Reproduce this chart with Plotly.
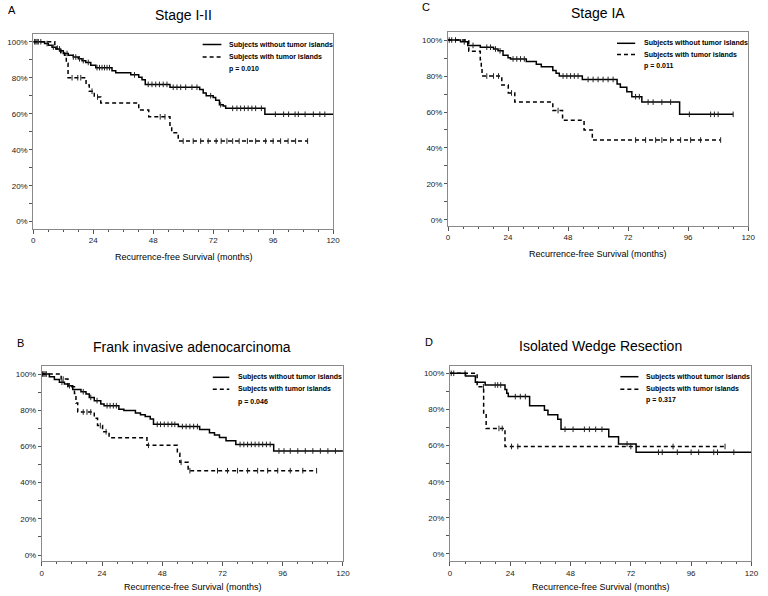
import plotly.graph_objects as go

# ---------------- data ----------------
panel_titles = ["Stage I-II", "Stage IA", "Frank invasive adenocarcinoma", "Isolated Wedge Resection"]
panel_letters = ["A", "C", "B", "D"]
p_values = ["p = 0.010", "p = 0.011", "p = 0.046", "p = 0.317"]
series_names = ["Subjects without tumor islands", "Subjects with tumor islands"]
x_ticks = [0, 24, 48, 72, 96, 120]
y_ticks = [0, 20, 40, 60, 80, 100]
y_tick_labels = ["0%", "20%", "40%", "60%", "80%", "100%"]

# Panel A (Stage I-II)
a_wo_t = [0, 4.5, 6, 7.5, 9, 10.5, 12, 14, 16, 18, 19.5, 21, 23, 25, 31.5, 33, 39, 42.2, 43.5, 44.8, 54.7, 66.6, 68, 69.2, 72, 73, 74.5, 76, 77, 92.7, 120]
a_wo_s = [100, 99, 98, 97, 96, 95, 93.5, 92.5, 91.5, 90.5, 89.5, 88.5, 86.9, 85.6, 83.9, 82.8, 81.6, 80.3, 78.9, 76.3, 74.7, 73.5, 71.5, 70, 69, 67.5, 65, 64.3, 63, 59.7, 59.7]
a_wo_c = [0.5, 1, 1.5, 2, 3, 5.5, 8, 11, 13.5, 16, 17, 18.5, 20, 22, 25.5, 26.5, 27.5, 28.5, 29.5, 30.5, 40.5,
          46, 47.5, 49, 50.5, 52, 53.5, 56, 57.5, 59, 61, 63.5, 65.5, 71, 75, 79.8, 81.5, 83, 84.5, 86, 87.5, 89, 91.3,
          96.9, 100.2, 102.2, 104.8, 106.1, 108.8, 112.1, 114.7, 116.7]
a_w_t = [0, 8.6, 9.5, 11, 12.5, 13.2, 13.9, 21.1, 22.4, 24.4, 27, 42.2, 46.2, 54.7, 55.4, 58, 109.8]
a_w_s = [100, 97.5, 96, 94, 92.5, 88, 80, 76, 72.5, 69.3, 66, 62, 58.3, 53, 49.4, 44.8, 44.8]
a_w_c = [10.5, 15.5, 17.8, 19, 23.5, 25.7, 50.8, 52.7, 60, 64, 67, 70, 73.2, 75.2, 77.5, 79.8, 82.4, 85.7, 89, 93, 96, 99, 102, 105, 109.8]

# Panel C (Stage IA)
c_wo_t = [0, 5, 7.9, 12.9, 18.2, 20, 22, 24, 25, 31.3, 35.3, 37.3, 41.9, 43.2, 44.5, 53.7, 67.6, 68.9, 71.5, 73.5, 77.5, 92.6, 114]
c_wo_s = [100, 99, 97, 96, 95, 94, 91.5, 90.2, 89.5, 88, 86.5, 85.2, 83, 81.5, 80, 78.1, 75.5, 73.7, 71.3, 68.5, 65.5, 58.7, 58.7]
c_wo_c = [0.5, 1.5, 3, 6.5, 10, 15.5, 17, 19, 20.8, 26, 27.5, 29, 30.5, 46, 47.5, 49, 50.5, 52, 56, 58, 60, 62, 64, 66,
          75, 76.5, 80, 82, 85.5, 89, 96.5, 105, 106.5, 108, 114]
c_w_t = [0, 8.3, 12.9, 13.3, 13.6, 21.5, 24.1, 26.7, 41.9, 45.8, 54.4, 57.7, 109]
c_w_s = [100, 93.8, 89, 85, 80, 75, 70.6, 65.5, 60.8, 55.4, 50, 44.4, 44.4]
c_w_c = [15.5, 18.2, 20.2, 25.4, 44, 75, 79, 83, 85.5, 89, 93, 97, 101, 109]

# Panel B (Frank invasive adenocarcinoma)
b_wo_t = [0, 3, 5, 7, 9, 10.4, 12.3, 15.6, 17.6, 18.9, 20.9, 23.5, 24.8, 30.7, 32.7, 37.3, 39.3, 41.2, 43.2, 44.5, 54.4, 62.9, 66.8, 68.8, 70.8, 73.4, 77.3, 92.4, 120]
b_wo_s = [100, 98.5, 97, 95.5, 94.5, 93.5, 91.5, 90.2, 89, 87.1, 85.3, 83.4, 82.5, 80.5, 79.8, 78.5, 77.5, 76.5, 75.1, 72.2, 71, 69.4, 67.5, 66.3, 65, 63.2, 61.1, 57.5, 57.5]
b_wo_c = [0.3, 0.8, 1.3, 1.8, 8, 11, 16.5, 19.5, 22, 26, 27.2, 28.5, 29.7, 46, 47.3, 48.8, 50.3, 51.8, 53, 56, 57.5, 59, 60.5, 62,
          79, 80.5, 82, 83.5, 85, 86.5, 88, 89.5, 91, 94.5, 96.5, 99, 102, 105, 108, 111, 114, 117]
b_w_t = [0, 7.7, 10.4, 13, 13.6, 14.3, 20.9, 22.2, 24.2, 26.8, 41.9, 54, 55, 58.3, 109.5]
b_w_s = [100, 97.2, 93, 89.3, 84, 79, 75.5, 71.5, 68.1, 64.8, 60.6, 56.2, 51.2, 46.6, 46.6]
b_w_c = [8.5, 16.5, 18, 19.5, 23.3, 25.6, 42.5, 55.5, 59, 70, 74, 78, 82, 86, 90, 94, 99, 104, 109.5]

# Panel D (Isolated Wedge Resection)
d_wo_t = [0, 6.2, 10.1, 14, 21.9, 22.6, 23.2, 31.7, 37.6, 39, 42.9, 44.2, 63.2, 67.1, 74.1, 120]
d_wo_s = [100, 98.5, 95, 93.5, 91, 89, 87.1, 82.1, 79.5, 77.1, 74.5, 69, 64.9, 60.9, 56.3, 56.3]
d_wo_c = [0.5, 1.5, 6, 18, 19, 20.2, 26, 28, 30, 45.8, 49, 53.5, 55.5, 58, 60.5, 70.5, 83, 84.5, 90.5, 96, 99, 105, 106.5, 113]
d_w_t = [0, 10.8, 13.4, 14.4, 21.9, 109.5]
d_w_s = [100, 92.5, 77.5, 69.5, 59.5, 59.5]
d_w_c = [13.3, 19.5, 20.8, 24.5, 27, 72, 88.8, 109.5]

panels = [
    (a_wo_t, a_wo_s, a_wo_c, a_w_t, a_w_s, a_w_c),
    (c_wo_t, c_wo_s, c_wo_c, c_w_t, c_w_s, c_w_c),
    (b_wo_t, b_wo_s, b_wo_c, b_w_t, b_w_s, b_w_c),
    (d_wo_t, d_wo_s, d_wo_c, d_w_t, d_w_s, d_w_c),
]

# ---------------- layout geometry (pixels) ----------------
W, H = 768, 596
FONT = "Arial, 'Liberation Sans', sans-serif"

def fx(px):
    return px / W

def fy(py):
    return 1 - py / H

# plot boxes: left, right, top, bottom (px) and y-range
boxes = [
    (31.7, 335.0, 34.0, 228.7, [-3.9, 104.3]),
    (451.3, 755.0, 32.3, 225.7, [-3.2, 104.3]),
    (40.3, 345.0, 365.7, 561.0, [-3.3, 104.6]),
    (453.3, 758.3, 365.7, 561.0, [-3.9, 104.2]),
]
titles_pos = [(183.7, 15), (603, 13), (192.5, 346.7), (605.8, 346)]
letters_pos = [(10, 10), (429, 7), (19, 342.7), (432.3, 342.3)]
xtitle_pos = [(184, 257), (603, 254), (193, 587.3), (606, 587.3)]
# legend: sample x0, x1, y_solid, y_dash, text_x, p_y
legend_pos = [
    (203, 222, 44.5, 57.0, 228, 69.5),
    (622.3, 640.7, 43.3, 54.5, 647.3, 66),
    (213.3, 230, 377.3, 389.3, 236.3, 401.7),
    (625.7, 644, 376.7, 389.3, 649.7, 400),
]

def surv_at(times, surv, t):
    val = surv[0]
    for ti, si in zip(times, surv):
        if ti <= t:
            val = si
        else:
            break
    return val

fig = go.Figure()
shapes = []
annotations = []

for i, (wo_t, wo_s, wo_c, w_t, w_s, w_c) in enumerate(panels):
    n = i + 1
    xa = "x" if n == 1 else f"x{n}"
    ya = "y" if n == 1 else f"y{n}"
    for (t, s, c, dash) in [(wo_t, wo_s, wo_c, "solid"), (w_t, w_s, w_c, "4px,3px")]:
        fig.add_trace(go.Scatter(
            x=t, y=s, mode="lines", xaxis=xa, yaxis=ya, showlegend=False,
            line=dict(shape="hv", color="black", width=1.5, dash=dash), hoverinfo="skip"))
        fig.add_trace(go.Scatter(
            x=c, y=[surv_at(t, s, ci) for ci in c], mode="markers", xaxis=xa, yaxis=ya,
            showlegend=False, hoverinfo="skip",
            marker=dict(symbol="line-ns", size=4, line=dict(color="#222", width=1))))

    l, r, tp, bt, yr = boxes[i]
    axcommon = dict(showline=True, linecolor="#8a8a8a", linewidth=1, mirror=True,
                    showgrid=False, zeroline=False, ticks="outside", tickcolor="#555",
                    tickfont=dict(family=FONT, size=8, color="#222"))
    xkey = "xaxis" if n == 1 else f"xaxis{n}"
    ykey = "yaxis" if n == 1 else f"yaxis{n}"
    fig.update_layout(**{
        xkey: dict(domain=[fx(l), fx(r)], range=[0, 120], anchor=ya, tickmode="array",
                   tickvals=x_ticks, ticktext=[str(v) for v in x_ticks],
                   ticklen=4, minor=dict(dtick=6, tick0=0, ticklen=2, ticks="outside", tickcolor="#555"),
                   **axcommon),
        ykey: dict(domain=[fy(bt), fy(tp)], range=yr, anchor=xa, tickmode="array",
                   tickvals=y_ticks, ticktext=y_tick_labels, ticklen=3,
                   minor=dict(dtick=10, tick0=0, ticklen=3, ticks="outside", tickcolor="#555"),
                   **axcommon),
    })

    tx, ty = titles_pos[i]
    annotations.append(dict(x=fx(tx), y=fy(ty), xref="paper", yref="paper", text=panel_titles[i],
                            showarrow=False, xanchor="center", yanchor="middle",
                            font=dict(family=FONT, size=14, color="black")))
    lx, ly = letters_pos[i]
    annotations.append(dict(x=fx(lx), y=fy(ly), xref="paper", yref="paper", text=panel_letters[i],
                            showarrow=False, xanchor="center", yanchor="middle",
                            font=dict(family=FONT, size=11, color="black")))
    xx, xy = xtitle_pos[i]
    annotations.append(dict(x=fx(xx), y=fy(xy), xref="paper", yref="paper",
                            text="Recurrence-free Survival (months)",
                            showarrow=False, xanchor="center", yanchor="middle",
                            font=dict(family=FONT, size=9, color="black")))
    s0, s1, ys, yd, tx0, py_ = legend_pos[i]
    shapes.append(dict(type="line", xref="paper", yref="paper", x0=fx(s0), x1=fx(s1), y0=fy(ys), y1=fy(ys),
                       line=dict(color="black", width=1.5)))
    shapes.append(dict(type="line", xref="paper", yref="paper", x0=fx(s0), x1=fx(s1), y0=fy(yd), y1=fy(yd),
                       line=dict(color="black", width=1.5, dash="4px,3px")))
    for txt, yy in [(series_names[0], ys), (series_names[1], yd), (p_values[i], py_)]:
        annotations.append(dict(x=fx(tx0), y=fy(yy), xref="paper", yref="paper", text=f"<b>{txt}</b>",
                                showarrow=False, xanchor="left", yanchor="middle",
                                font=dict(family=FONT, size=7, color="black")))

fig.update_layout(width=W, height=H, autosize=False, margin=dict(l=0, r=0, t=0, b=0),
                  paper_bgcolor="white", plot_bgcolor="white",
                  shapes=shapes, annotations=annotations, showlegend=False)

fig.write_html("out.html", config={"displayModeBar": False, "staticPlot": True},
               post_script="document.body.style.margin='0px';document.body.style.overflow='hidden';")
